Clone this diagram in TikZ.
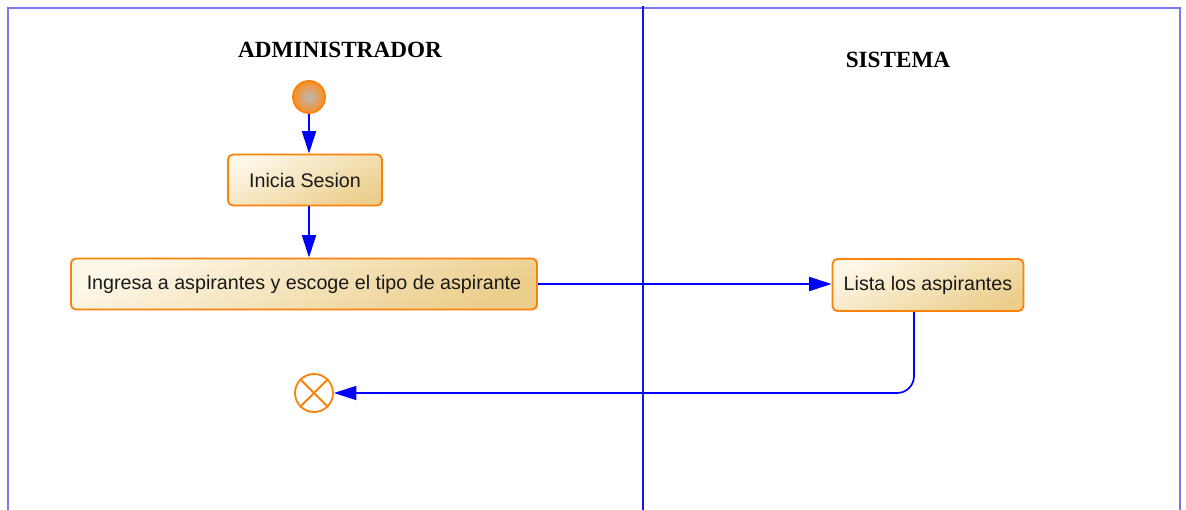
\documentclass[tikz,border=0pt]{standalone}
\usepackage{fontspec}
\setmainfont{Liberation Serif}
\newfontfamily\boxfont{Liberation Sans}
\usetikzlibrary{arrows.meta, shapes.geometric}
\definecolor{framelane}{RGB}{120, 120, 240}
\definecolor{lanediv}{RGB}{20, 20, 230}
\definecolor{flowblue}{RGB}{0, 0, 255}
\definecolor{actborder}{RGB}{250, 130, 10}
\definecolor{actlight}{RGB}{253, 247, 232}
\definecolor{actdark}{RGB}{236, 206, 140}

\begin{document}
\begin{tikzpicture}[
                x=0.025cm, y=-0.025cm,
                lane/.style={draw=framelane, line width=0.8pt},
                title/.style={font=\fontsize{16.5}{18}\selectfont\bfseries, text=black},
                activity/.style={draw=actborder, line width=1.3pt, rounded corners=3.5pt,
                    top color=actlight, bottom color=actdark, shading angle=25,
                    font=\boxfont\fontsize{14}{16}\selectfont, text=black!90,
                    inner sep=0pt},
                flow/.style={draw=flowblue, line width=1.2pt,
                    -{Triangle[length=16pt, width=10pt]}}
            ]
                \useasboundingbox (0,0) rectangle (1186,510);
                \fill[white] (0,0) rectangle (1186,510);

                % swimlanes
                \draw[lane] (8,510) -- (8,8) -- (1180,8) -- (1180,510);
                \draw[lanediv, line width=1pt] (643,6) -- (643,510);
                \node[title] (admin) at (340,50) {ADMINISTRADOR};
                \node[title] (sistema) at (898,60) {SISTEMA};

                % inicio
                \node[circle, draw=actborder, line width=1.3pt, minimum size=0.8cm,
                      inner color=gray!55, outer color=actborder!90, inner sep=0pt]
                      (inicio) at (309,97) {};

                % Inicia Sesion
                \node[activity, minimum width=3.85cm, minimum height=1.275cm]
                      (sesion) at (305,180) {Inicia Sesion};

                % Ingresa a aspirantes
                \node[activity, minimum width=11.65cm, minimum height=1.275cm]
                      (ingresa) at (304,284) {Ingresa a aspirantes y escoge el tipo de aspirante};

                % Lista los aspirantes
                \node[activity, minimum width=4.775cm, minimum height=1.3cm]
                      (lista) at (928,285) {Lista los aspirantes};

                % fin
                \node[circle, draw=actborder, fill=white, line width=1.3pt,
                      minimum size=0.95cm, inner sep=0pt] (fin) at (314,393) {};
                \draw[actborder, line width=1.3pt] (fin.45) -- (fin.225);
                \draw[actborder, line width=1.3pt] (fin.135) -- (fin.-45);

                \coordinate (vuelta) at (914,393);

                \draw[flow] (inicio) -- (inicio |- sesion.north);
                \draw[flow] (inicio |- sesion.south) -- (inicio |- ingresa.north);
                \draw[flow] (ingresa.east) -- (lista.west |- ingresa.east);
                \draw[flow, rounded corners=12pt] (vuelta |- lista.south) |- (fin.east);
            \end{tikzpicture}
\end{document}
